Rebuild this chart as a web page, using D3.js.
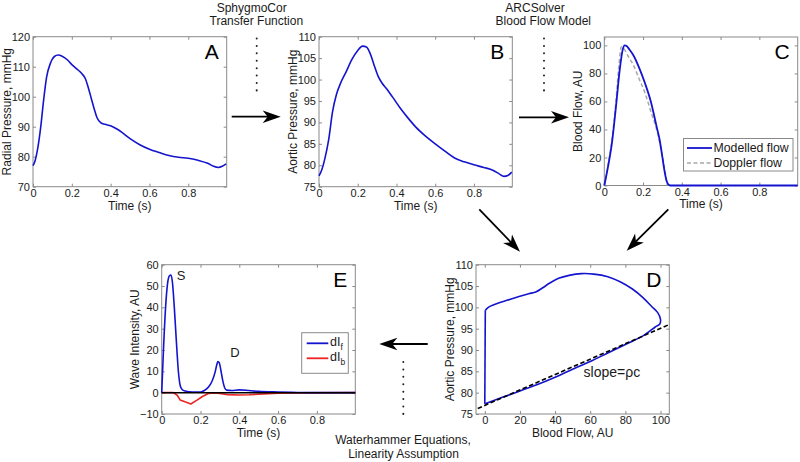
<!DOCTYPE html>
<html><head><meta charset="utf-8">
<script src="https://cdn.jsdelivr.net/npm/d3@7"></script>
<style>
html,body{margin:0;padding:0;background:#fff;}
svg{display:block;font-family:"Liberation Sans",Arial,Helvetica,sans-serif;}
</style></head><body>
<svg id="fig" width="800" height="462"></svg>
<script>
// ---------------- DATA ----------------
// Panel A: radial pressure (mmHg) vs time (s)
const tA = [0, 0.01, 0.025, 0.04, 0.055, 0.07, 0.09, 0.11, 0.13, 0.15, 0.175, 0.2, 0.225, 0.25, 0.27, 0.285, 0.3, 0.315, 0.33, 0.35, 0.37, 0.4, 0.43, 0.46, 0.5, 0.55, 0.6, 0.65, 0.7, 0.75, 0.8, 0.85, 0.9, 0.93, 0.955, 0.975, 0.995];
const radialPressure = [77.0, 78.5, 83, 90, 99, 106.5, 111.2, 113.4, 113.9, 113.5, 112.4, 110.7, 109.3, 107.8, 106, 103, 99.5, 96, 93, 91.3, 90.8, 90.3, 89.3, 88, 86, 84, 82.5, 81.4, 80.4, 79.8, 79.5, 78.8, 77.8, 76.8, 76.4, 76.8, 77.6];

// Panel B: aortic pressure (mmHg) vs time (s)
const tB = [0, 0.015, 0.03, 0.05, 0.07, 0.09, 0.11, 0.14, 0.17, 0.2, 0.225, 0.245, 0.265, 0.285, 0.305, 0.325, 0.35, 0.38, 0.42, 0.46, 0.5, 0.55, 0.6, 0.65, 0.7, 0.75, 0.8, 0.85, 0.9, 0.93, 0.955, 0.975, 0.995];
const aorticPressure = [77.5, 79, 81.5, 86, 92.5, 96.5, 99, 101.8, 104.7, 106.8, 107.8, 107.6, 106, 103.3, 100.8, 99.2, 97.8, 95.9, 93.3, 91, 88.9, 86.8, 85, 83.3, 81.7, 80.8, 80.1, 79.5, 78.8, 78, 77.4, 77.6, 78.4];

// Panel C: blood flow (AU) vs time (s)
const tModel = [0, 0.02, 0.04, 0.06, 0.08, 0.095, 0.105, 0.115, 0.13, 0.15, 0.18, 0.21, 0.24, 0.27, 0.285, 0.3, 0.31, 0.32, 0.33, 0.34, 0.4, 0.6, 0.8, 0.998];
const modelledFlow = [0, 14, 31, 56, 83, 97, 100, 99.5, 97, 93, 84, 73, 60, 42, 33, 20, 11, 4, 0.8, 0, 0, 0, 0, 0];
const tDoppler = [0, 0.02, 0.04, 0.06, 0.075, 0.088, 0.1, 0.12, 0.15, 0.18, 0.21, 0.24, 0.27, 0.29, 0.31, 0.325];
const dopplerFlow = [0, 15, 33, 60, 85, 99, 98, 93, 86, 76, 66, 53, 40, 28, 13, 0];
const flowLegend = ["Modelled flow", "Doppler flow"];

// Panel D: pressure-flow loop
const loopFlow = [0, 0.3, 2, 7, 13, 19, 25, 29, 33, 37, 42, 48, 55, 62, 70, 77, 84, 90, 95, 98.5, 100, 99.6, 97, 90, 80, 70, 60, 50, 40, 30, 20, 10, 4, 0];
const loopPressure = [77.4, 99.3, 100, 100.9, 101.7, 102.5, 103.2, 103.6, 104.6, 105.7, 106.8, 107.5, 107.9, 107.8, 107.2, 106, 104.3, 102.3, 100.2, 98.7, 97.2, 96.1, 95.4, 93.3, 91.3, 89.3, 87.3, 85.5, 83.6, 81.9, 80.4, 78.9, 78, 77.4];
const slopeFlow = [-4, 104.5];
const slopePressure = [76.3, 95.9];

// Panel E: wave intensity (AU) vs time (s)
const tForward = [0, 0.01, 0.02, 0.03, 0.04, 0.048, 0.055, 0.065, 0.075, 0.085, 0.095, 0.105, 0.12, 0.16, 0.2, 0.22, 0.24, 0.26, 0.275, 0.285, 0.29, 0.297, 0.305, 0.315, 0.325, 0.335, 0.36, 0.4, 0.45, 0.5, 0.6, 0.7, 0.8, 0.998];
const dIf = [0, 22, 40, 51, 54.8, 55.2, 52, 40, 25, 11, 3.5, 1.5, 0.8, 0.3, 0.3, 1, 2.5, 5.5, 9.5, 13.5, 14.6, 14, 10.5, 5.5, 2.2, 1.2, 1, 1.3, 1, 0.6, 0.3, 0.1, 0, 0];
const tBackward = [0, 0.06, 0.08, 0.095, 0.12, 0.15, 0.18, 0.21, 0.24, 0.27, 0.3, 0.34, 0.4, 0.45, 0.5, 0.6, 0.7, 0.998];
const dIb = [0, 0, -1.2, -3.4, -4.3, -5.3, -3.6, -1.8, -0.4, -0.1, -0.4, -0.9, -1.1, -1, -0.7, -0.3, -0.1, 0];

// tick values / labels
const timeTicks = [0, 0.2, 0.4, 0.6, 0.8];
const timeTickLabels = ["0", "0.2", "0.4", "0.6", "0.8"];
const radialTicks = [70, 80, 90, 100, 110, 120];
const aorticTicks = [75, 80, 85, 90, 95, 100, 105, 110];
const flowTicks = [0, 20, 40, 60, 80, 100];
const intensityTicks = [-10, 0, 10, 20, 30, 40, 50, 60];
const intensityTickLabels = ["\u221210", "0", "10", "20", "30", "40", "50", "60"];

// ---------------- DRAWING ----------------
const svg = d3.select('#fig');
const BLUE = "#1414cf", RED = "#ec2424", BOXC = "#8a8a8a", TXT = "#1a1a1a";

function panel(c) {
  const x = d3.scaleLinear().domain(c.xdom).range([c.L, c.R]);
  const y = d3.scaleLinear().domain(c.ydom).range([c.B, c.T]);
  const g = svg.append('g');
  g.append('rect').attr('x', c.L).attr('y', c.T).attr('width', c.R - c.L).attr('height', c.B - c.T)
    .attr('fill', '#fff').attr('stroke', 'none');
  const xl = c.xlabels || c.xticks.map(String);
  const yl = c.ylabels || c.yticks.map(String);
  const ax = [
    [d3.axisBottom(x).tickValues(c.xticks).tickFormat((d, i) => xl[i]).tickPadding(2.6), `translate(0,${c.B})`],
    [d3.axisTop(x).tickValues(c.xticks).tickFormat(''), `translate(0,${c.T})`],
    [d3.axisLeft(y).tickValues(c.yticks).tickFormat((d, i) => yl[i]).tickPadding(3), `translate(${c.L},0)`],
    [d3.axisRight(y).tickValues(c.yticks).tickFormat(''), `translate(${c.R},0)`]
  ];
  ax.forEach(([a, tr]) => {
    const ag = g.append('g').attr('transform', tr).call(a.tickSizeInner(-3).tickSizeOuter(0));
    ag.select('.domain').remove();
    ag.selectAll('line').attr('stroke', BOXC).attr('stroke-width', 1);
    ag.selectAll('text').attr('fill', TXT).attr('font-size', 11)
      .attr('font-family', '"Liberation Sans",Arial,sans-serif');
  });
  g.append('rect').attr('x', c.L).attr('y', c.T).attr('width', c.R - c.L).attr('height', c.B - c.T)
    .attr('fill', 'none').attr('stroke', BOXC).attr('stroke-width', 1);
  // axis labels
  g.append('text').attr('x', (c.L + c.R) / 2).attr('y', c.B + 22.8).attr('text-anchor', 'middle')
    .attr('font-size', 12).attr('fill', TXT).text(c.xlabel);
  g.append('text').attr('transform', `translate(${c.L - 22.3},${(c.T + c.B) / 2}) rotate(-90)`)
    .attr('text-anchor', 'middle').attr('font-size', 12).attr('fill', TXT).text(c.ylabel);
  // panel letter
  g.append('text').attr('x', c.R - 8).attr('y', c.T + 22).attr('text-anchor', 'end')
    .attr('font-size', 21).attr('fill', '#000').text(c.letter);
  return { x, y, g };
}

function drawLine(p, xs, ys, color, width, curve, dash) {
  const pts = xs.map((v, i) => [v, ys[i]]);
  const path = p.g.append('path').datum(pts)
    .attr('d', d3.line().x(d => p.x(d[0])).y(d => p.y(d[1])).curve(curve || d3.curveMonotoneX))
    .attr('fill', 'none').attr('stroke', color).attr('stroke-width', width)
    .attr('stroke-linejoin', 'round');
  if (dash) path.attr('stroke-dasharray', dash);
  return path;
}

// Panel A
const pA = panel({ L: 33, R: 226.7, T: 36.7, B: 186.7, xdom: [0, 0.998], ydom: [70, 120],
  xticks: timeTicks, xlabels: timeTickLabels, yticks: radialTicks,
  xlabel: "Time (s)", ylabel: "Radial Pressure, mmHg", letter: "A" });
drawLine(pA, tA, radialPressure, BLUE, 1.6);

// Panel B
const pB = panel({ L: 319, R: 512.3, T: 36.7, B: 186.7, xdom: [0, 0.998], ydom: [75, 110],
  xticks: timeTicks, xlabels: timeTickLabels, yticks: aorticTicks,
  xlabel: "Time (s)", ylabel: "Aortic Pressure, mmHg", letter: "B" });
drawLine(pB, tB, aorticPressure, BLUE, 1.6);

// Panel C
const pC = panel({ L: 604.3, R: 797.7, T: 37, B: 185.5, xdom: [0, 0.998], ydom: [0, 106],
  xticks: timeTicks, xlabels: timeTickLabels, yticks: flowTicks,
  xlabel: "Time (s)", ylabel: "Blood Flow, AU", letter: "C" });
drawLine(pC, tDoppler, dopplerFlow, "#a8a8a8", 1.5, d3.curveMonotoneX, "4,2.5");
drawLine(pC, tModel, modelledFlow, BLUE, 1.8);
// legend C
{
  const g = pC.g, lx = 683.5, ly = 138.5;
  g.append('rect').attr('x', lx).attr('y', ly).attr('width', 109.5).attr('height', 32.5)
    .attr('fill', '#fff').attr('stroke', BOXC).attr('stroke-width', 1);
  const items = [[BLUE, null], ["#a8a8a8", "4,2.5"]];
  items.forEach(([col, dash], i) => {
    const yy = ly + 9.5 + i * 15;
    const l = g.append('line').attr('x1', lx + 3.5).attr('x2', lx + 28.5).attr('y1', yy).attr('y2', yy)
      .attr('stroke', col).attr('stroke-width', i === 0 ? 1.8 : 1.5);
    if (dash) l.attr('stroke-dasharray', dash);
    g.append('text').attr('x', lx + 30).attr('y', yy + 4.3).attr('font-size', 12.3).attr('fill', TXT)
      .text(flowLegend[i]);
  });
}

// Panel D
const flowTicksD = [0, 20, 40, 60, 80, 100];
const pD = panel({ L: 476, R: 669.3, T: 264.7, B: 414, xdom: [-5, 105], ydom: [75, 110],
  xticks: flowTicksD, yticks: aorticTicks,
  xlabel: "Blood Flow, AU", ylabel: "Aortic Pressure, mmHg", letter: "D" });
drawLine(pD, loopFlow.slice(0, 2), loopPressure.slice(0, 2), BLUE, 1.6, d3.curveLinear);
drawLine(pD, loopFlow.slice(1), loopPressure.slice(1), BLUE, 1.6, d3.curveCatmullRom.alpha(0.5));
drawLine(pD, slopeFlow, slopePressure, "#000", 1.6, d3.curveLinear, "4.5,2.5");
pD.g.append('text').attr('x', pD.x(56.2)).attr('y', pD.y(83.7)).attr('font-size', 14).attr('fill', TXT)
  .text("slope=\u03C1c");

// Panel E
const pE = panel({ L: 161.7, R: 355.3, T: 264.7, B: 414, xdom: [0, 0.998], ydom: [-10, 60],
  xticks: timeTicks, xlabels: timeTickLabels, yticks: intensityTicks, ylabels: intensityTickLabels,
  xlabel: "Time (s)", ylabel: "Wave Intensity, AU", letter: "E" });
drawLine(pE, tBackward, dIb, RED, 1.6, d3.curveLinear);
drawLine(pE, tForward, dIf, BLUE, 1.6, d3.curveMonotoneX);
drawLine(pE, [0, 0.998], [0, 0], "#000", 1.5, d3.curveLinear);
pE.g.append('text').attr('x', pE.x(0.0775)).attr('y', pE.y(52.8)).attr('font-size', 13).attr('fill', TXT).text("S");
pE.g.append('text').attr('x', pE.x(0.353)).attr('y', pE.y(16.9)).attr('font-size', 13).attr('fill', TXT).text("D");
// legend E
{
  const g = pE.g, lx = 301.7, ly = 332.7;
  g.append('rect').attr('x', lx).attr('y', ly).attr('width', 46.6).attr('height', 40.6)
    .attr('fill', '#fff').attr('stroke', BOXC).attr('stroke-width', 1);
  [[BLUE, "f"], [RED, "b"]].forEach(([col, sub], i) => {
    const yy = ly + 10.6 + i * 15;
    g.append('line').attr('x1', lx + 5).attr('x2', lx + 26.6).attr('y1', yy).attr('y2', yy)
      .attr('stroke', col).attr('stroke-width', 1.8);
    const t = g.append('text').attr('x', lx + 28.3).attr('y', yy + 3).attr('font-size', 12.5).attr('fill', TXT);
    t.append('tspan').text("dI");
    t.append('tspan').attr('font-size', 8.5).attr('dy', 4).text(sub);
  });
}

// ---------------- ANNOTATIONS ----------------
function arrow(x1, y1, x2, y2) {
  const a = Math.atan2(y2 - y1, x2 - x1), len = Math.hypot(x2 - x1, y2 - y1);
  const g = svg.append('g').attr('transform', `translate(${x1},${y1}) rotate(${a * 180 / Math.PI})`);
  g.append('line').attr('x1', 0).attr('y1', 0).attr('x2', len - 12).attr('y2', 0)
    .attr('stroke', '#000').attr('stroke-width', 1.8);
  g.append('path').attr('d', `M${len},0 L${len - 18},-6.2 L${len - 13},0 L${len - 18},6.2 Z`).attr('fill', '#000');
}
arrow(231.7, 116.7, 280.7, 116.7);
arrow(519, 117.3, 569, 117.3);
arrow(479.3, 209.3, 520, 251.7);
arrow(668.3, 209.3, 626.7, 250.7);
arrow(427.7, 344, 379.3, 344);

function dots(x, y1, y2) {
  svg.append('line').attr('x1', x).attr('x2', x).attr('y1', y1).attr('y2', y2)
    .attr('stroke', '#222').attr('stroke-width', 2).attr('stroke-linecap', 'round')
    .attr('stroke-dasharray', '0.01,7.4');
}
dots(256.7, 38.5, 97);
dots(544, 38.5, 97);
dots(403.3, 362, 421);

function label(x, y, s) {
  svg.append('text').attr('x', x).attr('y', y).attr('text-anchor', 'middle')
    .attr('font-size', 12).attr('fill', TXT).text(s);
}
label(251.7, 11.5, "SphygmoCor");
label(256.3, 24.5, "Transfer Function");
label(535, 11.5, "ARCSolver");
label(543.3, 24.5, "Blood Flow Model");
label(403, 443.5, "Waterhammer Equations,");
label(403.5, 458.3, "Linearity Assumption");
</script>
</body></html>
